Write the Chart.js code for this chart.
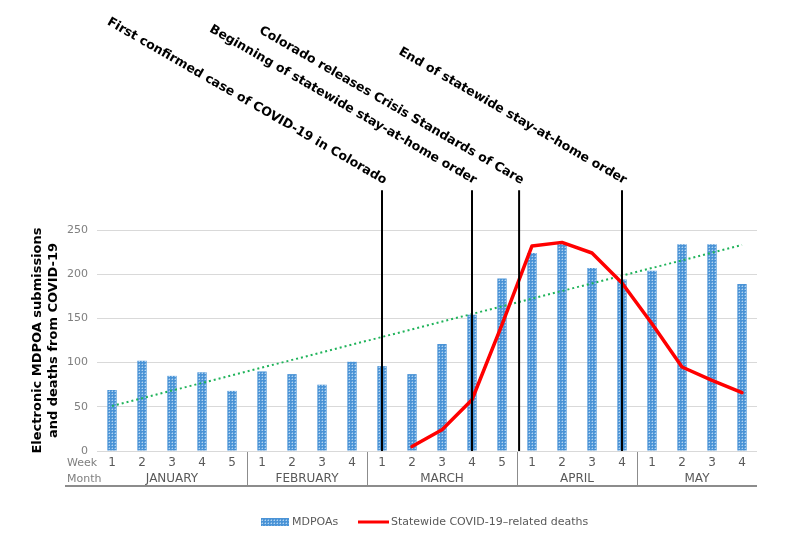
<!DOCTYPE html>
<html><head><meta charset="utf-8">
<script src="https://cdn.jsdelivr.net/npm/chart.js@4"></script>
<style>html,body{margin:0;padding:0;background:#fff}#wrap{width:800px;height:541px}</style>
</head><body><div id="wrap"><canvas id="c" width="800" height="541"></canvas></div>
<script>
// ---- data ----
const months = ['JANUARY','FEBRUARY','MARCH','APRIL','MAY'];
const weeksPerMonth = [5,4,5,4,4];
const weekLabels = ['1','2','3','4','5','1','2','3','4','1','2','3','4','5','1','2','3','4','1','2','3','4'];
const mdpoas = [69,102,85,89,68, 90,87,75,101, 96,87,121,154,195, 224,235,207,194, 204,234,234,189];
const deaths = [null,null,null,null,null, null,null,null,null, null,5,24,58,143, 232,236,224,190, 144,95,80,66];
const trendEnds = [51,233];
const yTicks = [0,50,100,150,200,250];
const eventLabels = ['First confirmed case of COVID-19 in Colorado','Beginning of statewide stay-at-home order','Colorado releases Crisis Standards of Care','End of statewide stay-at-home order'];
const eventPositions = [9, 12, 13.57, 17];
const seriesNames = ['MDPOAs','Statewide COVID-19\u2013related deaths'];
const yTitle = ['Electronic MDPOA submissions','and deaths from COVID-19'];

// ---- derived ----
const monthOf = [];
months.forEach((m,i)=>{ for(let k=0;k<weeksPerMonth[i];k++) monthOf.push(m); });
const categories = weekLabels.map((w,i)=> monthOf[i]+' '+w);
const trendData = categories.map((_,i)=> i===0 ? trendEnds[0] : (i===categories.length-1 ? trendEnds[1] : null));

// dotted bar pattern
function makePattern(){
  const pc = document.createElement('canvas'); pc.width = 3; pc.height = 3;
  const p = pc.getContext('2d');
  p.fillStyle = '#4a93d6'; p.fillRect(0,0,3,3);
  p.fillStyle = '#b3d5f2'; p.fillRect(1,1,1,1);
  p.fillStyle = '#78b0e2'; p.fillRect(0,1,1,1); p.fillRect(1,0,1,1);
  return p.createPattern(pc,'repeat');
}
const ctx0 = document.getElementById('c').getContext('2d');
const barPattern = makePattern();

const FONT = '"DejaVu Sans", Verdana, sans-serif';

const xAxisPlugin = {
  id: 'xAxisPlugin',
  afterDraw(chart){
    const {ctx, scales:{x}} = chart;
    const base = chart.chartArea.bottom;
    ctx.save();
    ctx.textBaseline = 'middle';
    ctx.font = '11px ' + FONT;
    ctx.fillStyle = '#7f7f7f';
    ctx.textAlign = 'left';
    ctx.fillText('Week', 67, base + 12);
    ctx.fillText('Month', 67, base + 28);
    ctx.fillStyle = '#595959';
    ctx.textAlign = 'center';
    ctx.font = '12px ' + FONT;
    weekLabels.forEach((w,i)=> ctx.fillText(w, x.getPixelForValue(i), base + 12));
    let idx = 0;
    ctx.strokeStyle = '#8c8c8c'; ctx.lineWidth = 1;
    months.forEach((m,i)=>{
      const start = idx, end = idx + weeksPerMonth[i] - 1;
      const cx = (x.getPixelForValue(start) + x.getPixelForValue(end)) / 2;
      ctx.fillText(m, cx, base + 28);
      if (i > 0){
        const sx = Math.round(x.getPixelForValue(start - 0.5)) + 0.5;
        ctx.beginPath(); ctx.moveTo(sx, base + 1); ctx.lineTo(sx, base + 35); ctx.stroke();
      }
      idx += weeksPerMonth[i];
    });
    ctx.strokeStyle = '#8c8c8c'; ctx.lineWidth = 2;
    ctx.beginPath(); ctx.moveTo(65, base + 35); ctx.lineTo(chart.chartArea.right, base + 35); ctx.stroke();
    ctx.restore();
  }
};

const eventPlugin = {
  id: 'eventPlugin',
  afterDatasetsDraw(chart, args, opts){
    const {ctx, scales:{x,y}} = chart;
    const top = y.getPixelForValue(opts.topValue);
    const bottom = y.getPixelForValue(0);
    ctx.save();
    ctx.strokeStyle = '#000'; ctx.lineWidth = 2;
    eventPositions.forEach((p,i)=>{
      const px = x.getPixelForValue(p);
      ctx.beginPath(); ctx.moveTo(px, bottom); ctx.lineTo(px, top); ctx.stroke();
      ctx.save();
      ctx.translate(px + 2, top - 6);
      ctx.rotate(30 * Math.PI / 180);
      ctx.font = 'bold 12.6px ' + FONT;
      ctx.fillStyle = '#000';
      ctx.textAlign = 'right';
      ctx.textBaseline = 'alphabetic';
      ctx.fillText(eventLabels[i], 0, 0);
      ctx.restore();
    });
    ctx.restore();
  }
};

const legendPlugin = {
  id: 'legendPlugin',
  afterDraw(chart){
    const ctx = chart.ctx;
    const ly = 522;
    ctx.save();
    ctx.fillStyle = barPattern;
    ctx.fillRect(261, ly - 4, 28, 8);
    ctx.font = '11px ' + FONT;
    ctx.fillStyle = '#595959';
    ctx.textBaseline = 'middle';
    ctx.textAlign = 'left';
    ctx.fillText(seriesNames[0], 292, ly);
    ctx.strokeStyle = '#ff0000'; ctx.lineWidth = 3;
    ctx.beginPath(); ctx.moveTo(358, ly); ctx.lineTo(389, ly); ctx.stroke();
    ctx.fillText(seriesNames[1], 391, ly);
    ctx.restore();
  }
};

new Chart(ctx0, {
  data: {
    labels: categories,
    datasets: [
      { type:'line', label:'Statewide COVID-19 deaths', data: deaths, borderColor:'#ff0000', borderWidth:3.5,
        pointRadius:0, tension:0, fill:false, order:1, borderJoinStyle:'round', borderCapStyle:'round' },
      { type:'line', label:'Trend', data: trendData, borderColor:'#1fb35a', borderWidth:2, borderDash:[2,3],
        pointRadius:0, spanGaps:true, fill:false, order:2 },
      { type:'bar', label:'MDPOAs', data: mdpoas, backgroundColor: barPattern, borderWidth:0,
        barPercentage:0.31, categoryPercentage:1, order:3 }
    ]
  },
  options: {
    responsive:false, animation:false, devicePixelRatio:1,
    layout:{ padding:{ top:230, right:43, bottom:90, left:0 } },
    plugins:{
      legend:{ display:false }, tooltip:{ enabled:false },
      eventPlugin:{ topValue: 295 }
    },
    scales:{
      x:{ type:'category', display:false, offset:true },
      y:{
        min:0, max:250,
        afterBuildTicks(s){ s.ticks = yTicks.map(v=>({value:v})); },
        afterFit(s){ s.width = 97; },
        ticks:{ color:'#7f7f7f', font:{ family:FONT, size:11 }, padding:9 },
        grid:{ color:'#d9d9d9', lineWidth:1, drawTicks:false },
        border:{ display:false },
        title:{ display:true, text: yTitle, color:'#000', font:{ family:FONT, size:13, weight:'bold' }, padding:{ top:30, bottom:0 } }
      }
    }
  },
  plugins:[xAxisPlugin, eventPlugin, legendPlugin]
});
</script>
</body></html>
